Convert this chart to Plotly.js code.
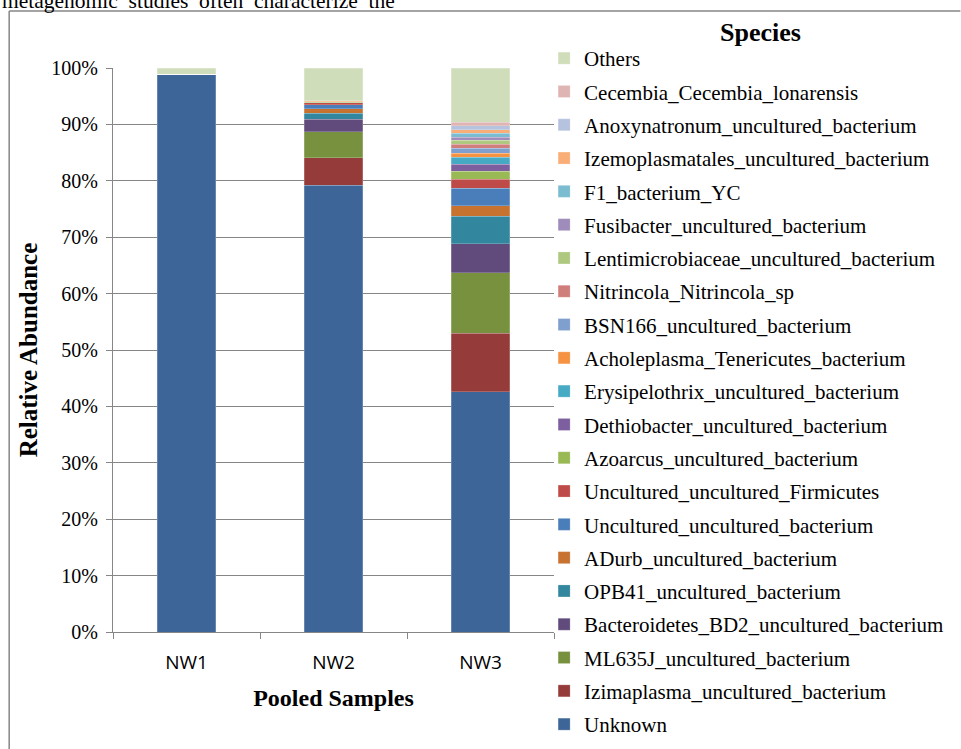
<!DOCTYPE html>
<html>
<head>
<meta charset="utf-8">
<script src="https://cdn.plot.ly/plotly-3.0.1.min.js"></script>
<style>html,body{margin:0;padding:0;background:#fff;}#chart{width:961px;height:749px;}</style>
</head>
<body>
<div id="chart"></div>
<script>
// Categories (pooled samples)
const samples = ["NW1", "NW2", "NW3"];

// Species, listed bottom-of-stack first
const species = [
  "Unknown",
  "Izimaplasma_uncultured_bacterium",
  "ML635J_uncultured_bacterium",
  "Bacteroidetes_BD2_uncultured_bacterium",
  "OPB41_uncultured_bacterium",
  "ADurb_uncultured_bacterium",
  "Uncultured_uncultured_bacterium",
  "Uncultured_uncultured_Firmicutes",
  "Azoarcus_uncultured_bacterium",
  "Dethiobacter_uncultured_bacterium",
  "Erysipelothrix_uncultured_bacterium",
  "Acholeplasma_Tenericutes_bacterium",
  "BSN166_uncultured_bacterium",
  "Nitrincola_Nitrincola_sp",
  "Lentimicrobiaceae_uncultured_bacterium",
  "Fusibacter_uncultured_bacterium",
  "F1_bacterium_YC",
  "Izemoplasmatales_uncultured_bacterium",
  "Anoxynatronum_uncultured_bacterium",
  "Cecembia_Cecembia_lonarensis",
  "Others"
];

// Relative abundance (%) per species for NW1, NW2, NW3
const unknown        = [98.9, 79.2, 42.6];
const izimaplasma    = [0, 4.9, 10.4];
const ml635j         = [0, 4.6, 10.7];
const bacteroidetes  = [0, 2.2, 5.1];
const opb41          = [0, 1.1, 4.9];
const adurb          = [0, 0.8, 1.9];
const unculturedBact = [0, 0.65, 3.1];
const firmicutes     = [0, 0.4, 1.6];
const azoarcus       = [0, 0.1, 1.35];
const dethiobacter   = [0, 0.05, 1.3];
const erysipelothrix = [0, 0.05, 1.2];
const acholeplasma   = [0, 0.05, 0.75];
const bsn166         = [0, 0.05, 0.9];
const nitrincola     = [0, 0, 0.7];
const lentimicro     = [0, 0, 0.7];
const fusibacter     = [0, 0, 0.55];
const f1bacterium    = [0, 0, 0.7];
const izemoplasma    = [0, 0, 0.6];
const anoxynatronum  = [0, 0, 0.7];
const cecembia       = [0, 0, 0.6];
const others         = [1.1, 5.85, 9.65];

const seriesValues = [unknown, izimaplasma, ml635j, bacteroidetes, opb41, adurb,
  unculturedBact, firmicutes, azoarcus, dethiobacter, erysipelothrix, acholeplasma,
  bsn166, nitrincola, lentimicro, fusibacter, f1bacterium, izemoplasma,
  anoxynatronum, cecembia, others];

const colors = [
  "#3D6598", "#953B39", "#77913F", "#614B7C", "#32869D", "#C7722F",
  "#4A7EBB", "#BE4B48", "#98B954", "#7D5FA0", "#46AAC5", "#F59342",
  "#7F9FCF", "#CF7E7C", "#AFC880", "#9F8CBA", "#7CBCD0", "#F9AE78",
  "#B6C3DE", "#DFB5B4", "#D0DDBA"
];

const traces = species.map((name, i) => ({
  type: "bar",
  name: name,
  x: samples,
  y: seriesValues[i],
  legendgroup: "g" + i,
  legendrank: 1000 - i,
  marker: {color: colors[i], line: {color: "rgba(255,255,255,0.35)", width: 0.6}},
  hovertemplate: "%{x}<br>" + name + ": %{y}%<extra></extra>"
}));

// plot area: x 113..559, y 68..632
const L = 113, R = 559, T = 68, B = 632;
const px = v => (v - L) / (R - L);
const py = v => (B - v) / (B - T);

const serif = "Liberation Serif, Times New Roman, serif";
const grey = "#868686";

const layout = {
  width: 961,
  height: 749,
  margin: {l: L, r: 961 - R, t: T, b: 749 - B, pad: 0},
  paper_bgcolor: "#ffffff",
  plot_bgcolor: "#ffffff",
  barmode: "stack",
  bargap: 0.6,
  showlegend: true,
  font: {family: serif, color: "#000000", size: 20},
  xaxis: {
    type: "category",
    showline: true,
    linecolor: grey,
    linewidth: 1,
    ticks: "outside",
    tickson: "boundaries",
    ticklen: 6,
    tickcolor: grey,
    showgrid: false,
    tickfont: {family: "Open Sans, sans-serif", size: 19, color: "#000"},
    ticklabelstandoff: 13,
    title: {text: "<b>Pooled Samples</b>", font: {family: serif, size: 24, color: "#000"}, standoff: 15}
  },
  yaxis: {
    range: [0, 100],
    dtick: 10,
    ticksuffix: "%",
    showline: true,
    linecolor: grey,
    linewidth: 1,
    ticks: "outside",
    ticklen: 6,
    tickcolor: grey,
    showgrid: true,
    gridcolor: grey,
    gridwidth: 1,
    zeroline: false,
    tickfont: {family: serif, size: 20, color: "#000"},
    ticklabelstandoff: 4,
    title: {text: "<b>Relative Abundance</b>", font: {family: serif, size: 25, color: "#000"}, standoff: 6}
  },
  legend: {
    x: px(549),
    y: py(38),
    xanchor: "left",
    yanchor: "top",
    traceorder: "grouped",
    tracegroupgap: 3,
    itemwidth: 30,
    maxheight: 740,
    bgcolor: "rgba(0,0,0,0)",
    font: {family: serif, size: 21, color: "#000"}
  },
  annotations: [
    {
      xref: "paper", yref: "paper",
      x: px(768), y: py(32),
      xanchor: "center", yanchor: "middle",
      text: "<b>Species</b>", showarrow: false,
      font: {family: serif, size: 26, color: "#000"}
    },
    {
      xref: "paper", yref: "paper",
      x: px(0), y: py(14),
      xanchor: "left", yanchor: "bottom",
      text: "metagenomic&nbsp;&nbsp;studies&nbsp;&nbsp;often&nbsp;&nbsp;characterize&nbsp;&nbsp;the",
      showarrow: false, borderpad: 0,
      font: {family: serif, size: 21.5, color: "#000"}
    }
  ],
  shapes: [
    {type: "line", xref: "paper", yref: "paper", x0: px(8), x1: px(8), y0: py(11), y1: py(760),
     line: {color: grey, width: 1.5}},
    {type: "line", xref: "paper", yref: "paper", x0: px(8), x1: px(970), y0: py(11), y1: py(11),
     line: {color: grey, width: 1.5}}
  ]
};

Plotly.newPlot("chart", traces, layout, {displayModeBar: false, staticPlot: true});
</script>
</body>
</html>
